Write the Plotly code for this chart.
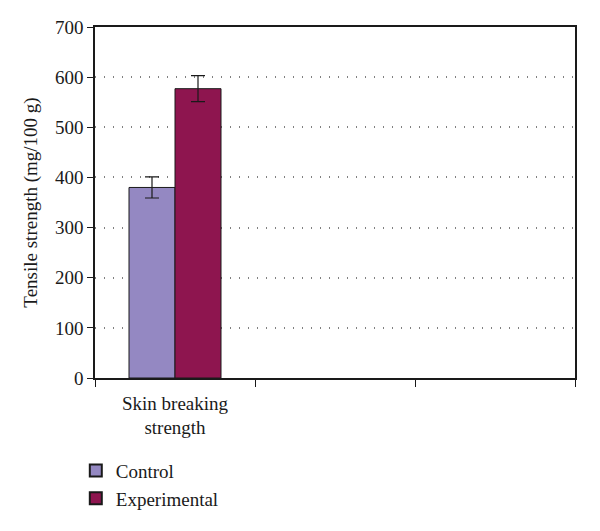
import plotly.graph_objects as go

categories = ["Skin breaking<br>strength", " ", "  "]
series_names = ["Control", "Experimental"]
control_vals = [380]
control_err = [21]
experimental_vals = [577]
experimental_err = [26]
y_ticks = [0, 100, 200, 300, 400, 500, 600, 700]

colors = {"Control": "#9488c2", "Experimental": "#8e154f"}
font_family = "Liberation Serif, DejaVu Serif, serif"

fig = go.Figure()
for name, vals, errs in [("Control", control_vals, control_err),
                         ("Experimental", experimental_vals, experimental_err)]:
    fig.add_trace(go.Bar(
        x=categories[:len(vals)], y=vals, name=name,
        marker=dict(color=colors[name], line=dict(color="#1a1a1a", width=1)),
        error_y=dict(type="data", array=errs, visible=True, color="#1a1a1a",
                     thickness=1.2, width=7),
    ))

fig.update_layout(
    width=600, height=531,
    margin=dict(l=87, r=33, t=19, b=161),
    paper_bgcolor="white", plot_bgcolor="white",
    barmode="group", bargap=0.425, bargroupgap=0,
    font=dict(family=font_family, size=19, color="#1a1a1a"),
    legend=dict(orientation="v", x=-0.04, y=-0.21, xanchor="left", yanchor="top",
                font=dict(size=19), traceorder="normal", itemsizing="constant",
                tracegroupgap=0),
    showlegend=True,
)
fig.update_xaxes(
    type="category", categoryorder="array", categoryarray=categories,
    range=[-0.5, 2.5], tickson="boundaries", ticks="outside", ticklen=7,
    tickcolor="#1a1a1a", showline=True, linecolor="#1a1a1a", linewidth=1.5,
    mirror=True, showgrid=False, tickfont=dict(size=19), automargin=False,
    ticklabelstandoff=7,
)
fig.update_yaxes(
    range=[0, 700], tickvals=y_ticks, ticks="outside", ticklen=6,
    tickcolor="#1a1a1a", showline=True, linecolor="#1a1a1a", linewidth=1.5,
    mirror=True, showgrid=True, gridcolor="#808080", griddash="1px,8px", gridwidth=1.5,
    zeroline=False, tickfont=dict(size=19), automargin=False,
    title=dict(text="Tensile strength (mg/100 g)", font=dict(size=19), standoff=12),
)
fig.write_html("out.html")
